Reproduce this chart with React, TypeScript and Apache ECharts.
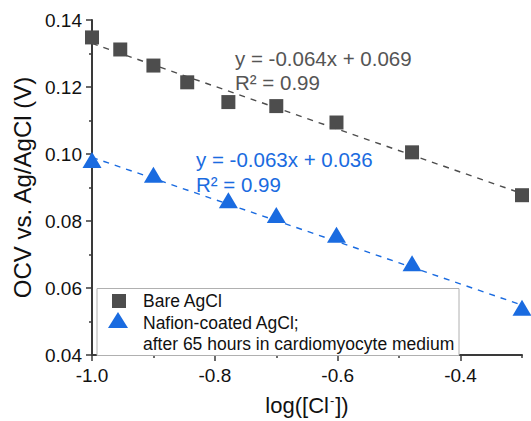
import React, { useEffect, useRef } from "react";
import * as echarts from "echarts";

const xBare = [-1.0, -0.954, -0.9, -0.845, -0.778, -0.7, -0.602, -0.479, -0.3];
const yBare = [0.1348, 0.1312, 0.1264, 0.1214, 0.1155, 0.1143, 0.1094, 0.1005, 0.0877];
const xNafion = [-1.0, -0.9, -0.778, -0.7, -0.602, -0.479, -0.3];
const yNafion = [0.0982, 0.0938, 0.0862, 0.0818, 0.0759, 0.0674, 0.0541];
const fitBareX = [-1.0, -0.3];
const fitBareY = [0.133, 0.0882];
const fitNafionX = [-1.0, -0.3];
const fitNafionY = [0.099, 0.0549];
const xMajorTicks = [-1.0, -0.8, -0.6, -0.4];
const xMinorTicks = [-0.9, -0.7, -0.5, -0.3];
const bareLabel = "Bare AgCl";
const nafionLabel1 = "Nafion-coated AgCl;";
const nafionLabel2 = "after 65 hours in cardiomyocyte medium";
const bareEq = "y = -0.064x + 0.069";
const nafionEq = "y = -0.063x + 0.036";
const r2Text = "R² = 0.99";

const FONT = '"Liberation Sans", Arial, Helvetica, sans-serif';
const GRAY = "#4d4d4d";
const BLUE = "#1a6be0";
const AXIS = "#3a3a3a";

const zip = (xs: number[], ys: number[]) => xs.map((x, i) => [x, ys[i]]);

export default function App() {
  const ref = useRef<HTMLDivElement>(null);
  useEffect(() => {
    if (!ref.current) return;
    const chart = echarts.init(ref.current, undefined, { renderer: "svg" });
    const option: any = {
      animation: false,
      backgroundColor: "#fff",
      grid: { left: 92, right: 9, top: 20, bottom: 62 },
      xAxis: [
        {
          type: "value",
          min: -1.0,
          max: -0.3,
          interval: 0.2,
          position: "bottom",
          name: "log([Cl{sup|-}])",
          nameLocation: "middle",
          nameGap: 39,
          nameTextStyle: {
            fontFamily: FONT,
            fontSize: 22,
            color: "#111",
            rich: {
              sup: { fontFamily: FONT, fontSize: 13, verticalAlign: "top", color: "#111", padding: [0, 1, 0, 1] },
            },
          },
          axisLine: { show: true, onZero: false, lineStyle: { color: AXIS, width: 2 } },
          axisTick: { show: true, length: 6, customValues: xMajorTicks, lineStyle: { color: AXIS, width: 1.5 } },
          axisLabel: {
            customValues: xMajorTicks,
            margin: 11,
            fontFamily: FONT,
            fontSize: 19,
            color: "#111",
            formatter: (v: number) => v.toFixed(1),
          },
          splitLine: { show: false },
        },
        {
          type: "value",
          min: -1.0,
          max: -0.3,
          interval: 0.2,
          position: "bottom",
          axisLine: { show: false, onZero: false },
          axisTick: { show: true, length: 3, customValues: xMinorTicks, lineStyle: { color: AXIS, width: 1.5 } },
          axisLabel: { show: false },
          splitLine: { show: false },
        },
      ],
      yAxis: {
        type: "value",
        min: 0.04,
        max: 0.14,
        interval: 0.02,
        name: "OCV vs. Ag/AgCl (V)",
        nameLocation: "middle",
        nameGap: 50,
        nameTextStyle: { fontFamily: FONT, fontSize: 24, color: "#111" },
        axisLine: { show: true, onZero: false, lineStyle: { color: AXIS, width: 2 } },
        axisTick: { show: true, length: 6, lineStyle: { color: AXIS, width: 1.5 } },
        minorTick: { show: true, splitNumber: 2, length: 3, lineStyle: { color: AXIS, width: 1.5 } },
        axisLabel: {
          margin: 10,
          fontFamily: FONT,
          fontSize: 19,
          color: "#111",
          formatter: (v: number) => v.toFixed(2),
        },
        splitLine: { show: false },
      },
      series: [
        {
          type: "line",
          data: zip(fitBareX, fitBareY),
          symbol: "none",
          lineStyle: { color: GRAY, width: 1.4, type: [6, 6] },
          z: 1,
          silent: true,
        },
        {
          type: "line",
          data: zip(fitNafionX, fitNafionY),
          symbol: "none",
          lineStyle: { color: BLUE, width: 1.4, type: [6, 6] },
          z: 1,
          silent: true,
        },
        {
          name: bareLabel,
          type: "scatter",
          data: zip(xBare, yBare),
          symbol: "rect",
          symbolSize: 14,
          itemStyle: { color: GRAY, opacity: 1 },
          clip: false,
          z: 3,
        },
        {
          name: nafionLabel1,
          type: "scatter",
          data: zip(xNafion, yNafion),
          symbol: "triangle",
          symbolSize: [19, 16],
          itemStyle: { color: BLUE, opacity: 1 },
          clip: false,
          z: 3,
        },
      ],
      graphic: [
        { type: "text", x: 235, y: 58, style: { text: bareEq, fill: "#555", font: `20.5px ${FONT}`, verticalAlign: "middle", align: "left" } },
        { type: "text", x: 235, y: 82, style: { text: r2Text, fill: "#555", font: `20.5px ${FONT}`, verticalAlign: "middle", align: "left" } },
        { type: "text", x: 196, y: 159, style: { text: nafionEq, fill: BLUE, font: `20.5px ${FONT}`, verticalAlign: "middle", align: "left" } },
        { type: "text", x: 196, y: 184, style: { text: r2Text, fill: BLUE, font: `20.5px ${FONT}`, verticalAlign: "middle", align: "left" } },
        {
          type: "rect",
          shape: { x: 97, y: 288.5, width: 362, height: 67 },
          style: { fill: "#fff", stroke: "#b0b0b0", lineWidth: 1 },
          z: 10,
        },
        { type: "rect", shape: { x: 112, y: 294, width: 14, height: 14 }, style: { fill: GRAY }, z: 11 },
        {
          type: "polygon",
          shape: { points: [[118, 312], [128, 328], [108, 328]] },
          style: { fill: BLUE },
          z: 11,
        },
        { type: "text", x: 143, y: 301, style: { text: bareLabel, fill: "#111", font: `17.5px ${FONT}`, verticalAlign: "middle" }, z: 11 },
        { type: "text", x: 143, y: 323, style: { text: nafionLabel1, fill: "#111", font: `17.5px ${FONT}`, verticalAlign: "middle" }, z: 11 },
        { type: "text", x: 143, y: 344, style: { text: nafionLabel2, fill: "#111", font: `17.5px ${FONT}`, verticalAlign: "middle" }, z: 11 },
      ],
    };
    chart.setOption(option);
    return () => chart.dispose();
  }, []);
  return <div ref={ref} style={{ position: "absolute", left: 0, top: 0, width: 531, height: 421 }} />;
}
